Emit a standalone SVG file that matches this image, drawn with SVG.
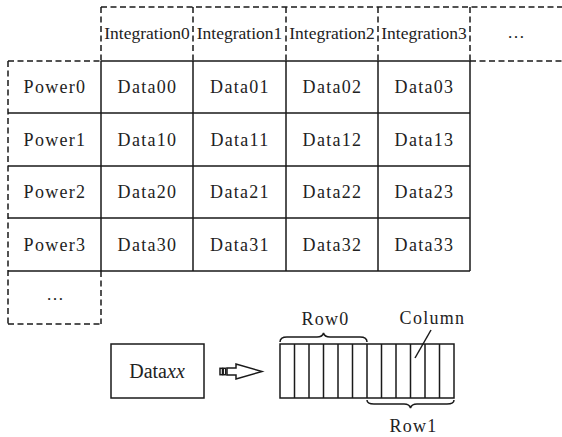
<svg xmlns="http://www.w3.org/2000/svg" width="562" height="437" viewBox="0 0 562 437">
<style>
.s{stroke:#1a1a1a;stroke-width:1.5;fill:none}
.d{stroke:#1a1a1a;stroke-width:1.5;fill:none;stroke-dasharray:6 3.5}
text{font-family:"Liberation Serif","Times New Roman",serif;fill:#222;text-anchor:middle}
.c{font-size:18px;letter-spacing:1.3px}
.h{font-size:17.5px}
</style>
<rect width="562" height="437" fill="#fff"/>
<g id="connectors">
<path class="d" d="M101,7H562M101,7V61M193,7V61M286,7V61M378,7V61M470,7V61M470,61H562"/>
<path class="d" d="M8,61H101M8,61V324M8,324H101M101,271V324"/>
<path class="s" d="M101,61H470M8,113H470M8,166H470M8,218H470M8,271H470M101,61V271M193,61V271M286,61V271M378,61V271M470,61V271"/>
</g>
<g id="header">
<text class="h" x="147" y="39">Integration0</text>
<text class="h" x="239.5" y="39">Integration1</text>
<text class="h" x="332" y="39">Integration2</text>
<text class="h" x="424" y="39">Integration3</text>
<text class="h" x="516" y="38">…</text>
</g>
<g id="power">
<text class="c" x="55" y="93">Power0</text>
<text class="c" x="55" y="145.5">Power1</text>
<text class="c" x="55" y="198">Power2</text>
<text class="c" x="55" y="250.5">Power3</text>
<text class="h" x="55" y="300">…</text>
</g>
<g id="data">
<text class="c" x="147.5" y="93">Data00</text>
<text class="c" x="240" y="93">Data01</text>
<text class="c" x="332.5" y="93">Data02</text>
<text class="c" x="424.5" y="93">Data03</text>
<text class="c" x="147.5" y="145.5">Data10</text>
<text class="c" x="240" y="145.5">Data11</text>
<text class="c" x="332.5" y="145.5">Data12</text>
<text class="c" x="424.5" y="145.5">Data13</text>
<text class="c" x="147.5" y="198">Data20</text>
<text class="c" x="240" y="198">Data21</text>
<text class="c" x="332.5" y="198">Data22</text>
<text class="c" x="424.5" y="198">Data23</text>
<text class="c" x="147.5" y="250.5">Data30</text>
<text class="c" x="240" y="250.5">Data31</text>
<text class="c" x="332.5" y="250.5">Data32</text>
<text class="c" x="424.5" y="250.5">Data33</text>
</g>
<g id="dataxx">
<rect class="s" x="111" y="344" width="93" height="54" stroke-width="1.3"/>
<text x="157" y="378" style="font-size:20px">Data<tspan font-style="italic">xx</tspan></text>
</g>
<g id="arrow">
<rect class="s" x="220" y="368.3" width="2.5" height="6.4" stroke-width="1"/>
<rect class="s" x="223.2" y="368.3" width="2.5" height="6.4" stroke-width="1"/>
<polygon class="s" stroke-width="1" points="227,368 236,368 236,364 262,371.5 236,379 236,375 227,375"/>
</g>
<g id="strip">
<rect class="s" x="280" y="344" width="174" height="54" stroke-width="1.3"/>
<path class="s" stroke-width="1.2" d="M294.5,344V398M309,344V398M323.5,344V398M338,344V398M352.5,344V398M367,344V398M381.5,344V398M396,344V398M410.5,344V398M425,344V398M439.5,344V398"/>
<path class="s" stroke-width="1.2" d="M280,342Q280,337 287,337L317,337Q322.5,337 323.5,333Q324.5,337 330,337L360,337Q367,337 367,342"/>
<path class="s" stroke-width="1.2" d="M367,400Q367,404 374,404L404,404Q409.5,404 410.5,408Q411.5,404 417,404L447,404Q454,404 454,400"/>
<path class="s" stroke-width="1.2" d="M431,330L415,358"/>
<text class="c" x="325.5" y="325">Row0</text>
<text class="c" x="432.5" y="323.5">Column</text>
<text class="c" x="413.5" y="431.5">Row1</text>
</g>
</svg>
